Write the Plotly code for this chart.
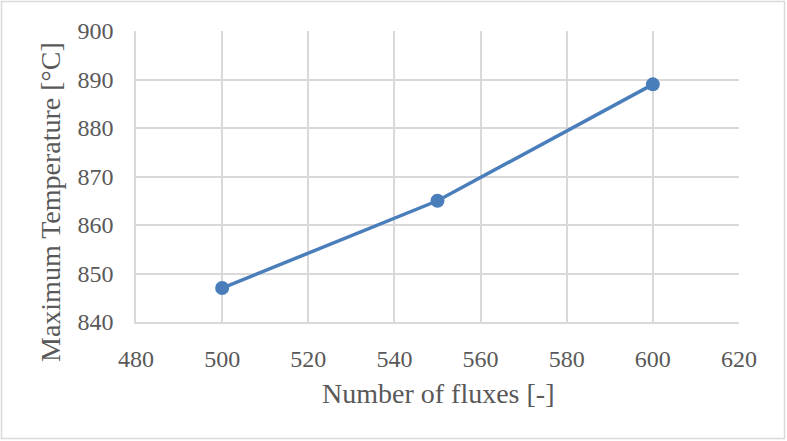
import plotly.graph_objects as go

# Mesh study: peak temperature vs. number of fluxes
fluxes = [500, 550, 600]
max_temp = [847, 865, 889]

x_ticks = [480, 500, 520, 540, 560, 580, 600, 620]
y_ticks = [840, 850, 860, 870, 880, 890, 900]

x_title = "Number of fluxes [-]"
y_title = "Maximum Temperature [°C]"

W, H = 787, 441
L, R, T, B = 136, 48, 31, 119
pw, ph = W - L - R, H - T - B

font_family = "Liberation Serif, DejaVu Serif, serif"
text_color = "#595959"
grid_color = "#d9d9d9"
title_font = dict(family=font_family, size=28, color=text_color)

fig = go.Figure(
    go.Scatter(
        x=fluxes,
        y=max_temp,
        mode="lines+markers",
        line=dict(color="#4a7ebb", width=3.5),
        marker=dict(color="#4a7ebb", size=14),
        showlegend=False,
    )
)

axis_style = dict(
    showgrid=True,
    gridcolor=grid_color,
    gridwidth=1.5,
    zeroline=False,
    showline=True,
    linecolor=grid_color,
    linewidth=1.5,
    ticks="outside",
    tickcolor="rgba(0,0,0,0)",
    tickfont=dict(family=font_family, size=24, color=text_color),
)
fig.update_xaxes(range=[480, 620], tickvals=x_ticks, ticklen=14, **axis_style)
fig.update_yaxes(range=[840, 900], tickvals=y_ticks, ticklen=16, **axis_style)

# Axis titles placed as annotations (pixel offsets converted to paper units)
fig.add_annotation(
    text=x_title, xref="paper", yref="paper",
    x=0.5, y=(322 - 393) / ph, xanchor="center", yanchor="middle",
    showarrow=False, font=title_font,
)
fig.add_annotation(
    text=y_title, xref="paper", yref="paper", textangle=-90,
    x=(50 - L) / pw, y=(322 - 202) / ph, xanchor="center", yanchor="middle",
    showarrow=False, font=title_font,
)

# Light frame around the whole chart
fig.add_shape(
    type="rect", xref="paper", yref="paper",
    x0=-(L - 1.5) / pw, x1=1 + (R - 2.5) / pw,
    y0=-(B - 2.5) / ph, y1=1 + (T - 1.5) / ph,
    line=dict(color=grid_color, width=1.5),
    fillcolor="rgba(0,0,0,0)", layer="below",
)

fig.update_layout(
    width=W, height=H,
    margin=dict(l=L, r=R, t=T, b=B),
    paper_bgcolor="white",
    plot_bgcolor="white",
)

fig.write_html("out.html")
